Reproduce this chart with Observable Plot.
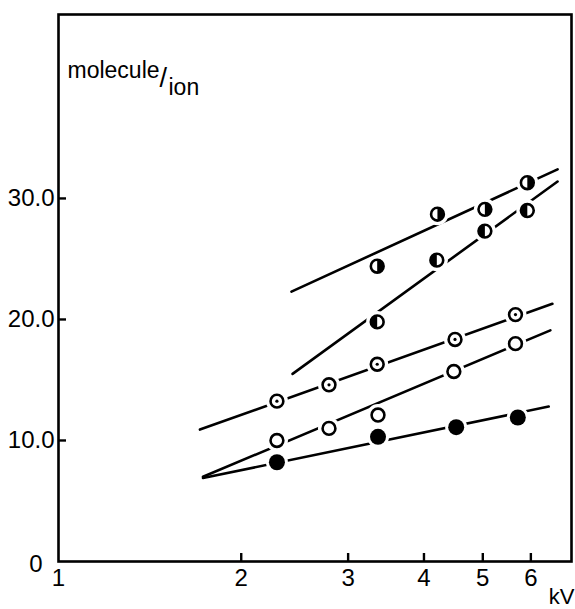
<!DOCTYPE html>
<html><head><meta charset="utf-8">
<script src="https://cdn.jsdelivr.net/npm/d3@7"></script>
<script src="https://cdn.jsdelivr.net/npm/@observablehq/plot@0.6"></script>
<style>html,body{margin:0;padding:0;background:#fff;} svg{display:block}</style>
</head><body><div id="chart"></div>
<script>
// axis ticks
const xTicks = [2, 3, 4, 5, 6];
const xLabelTicks = [1, 2, 3, 4, 5, 6];
const xTickLabels = ["1", "2", "3", "4", "5", "6"];
const yTicks = [10, 20, 30];
const yTickLabels = ["10.0", "20.0", "30.0"];
const yZeroTick = [0];
const yZeroLabel = ["0"];

// filled circles
const kvFilled = [2.29, 3.36, 4.52, 5.71];
const molFilled = [8.2, 10.3, 11.1, 11.9];
const fitFilledKv = [1.73, 6.42];
const fitFilledMol = [6.9, 12.8];
// open circles
const kvOpen = [2.29, 2.79, 3.36, 4.48, 5.66];
const molOpen = [10.0, 11.0, 12.1, 15.7, 18.0];
const fitOpenKv = [1.73, 6.46];
const fitOpenMol = [7.0, 19.1];
// dotted circles
const kvDotted = [2.29, 2.79, 3.35, 4.50, 5.66];
const molDotted = [13.25, 14.6, 16.3, 18.35, 20.4];
const fitDottedKv = [1.71, 6.51];
const fitDottedMol = [10.9, 21.3];
// half-filled, left half black
const kvHalfL = [3.35, 4.20, 5.04, 5.92];
const molHalfL = [19.8, 24.9, 27.3, 29.0];
const fitHalfLKv = [2.43, 6.64];
const fitHalfLMol = [15.5, 31.4];
// half-filled, right half black
const kvHalfR = [3.35, 4.21, 5.04, 5.92];
const molHalfR = [24.4, 28.7, 29.1, 31.3];
const fitHalfRKv = [2.42, 6.64];
const fitHalfRMol = [22.3, 32.4];

const pts = (kv, mol) => kv.map((x, i) => ({x, y: mol[i]}));
const filled = pts(kvFilled, molFilled);
const open = pts(kvOpen, molOpen);
const dotted = pts(kvDotted, molDotted);
const halfL = pts(kvHalfL, molHalfL);
const halfR = pts(kvHalfR, molHalfR);
const allPts = [...filled, ...open, ...dotted, ...halfL, ...halfR];
const fits = [
  pts(fitFilledKv, fitFilledMol), pts(fitOpenKv, fitOpenMol), pts(fitDottedKv, fitDottedMol),
  pts(fitHalfLKv, fitHalfLMol), pts(fitHalfRKv, fitHalfRMol)
];

const halfSymbol = (left) => ({
  draw(ctx, size) {
    const r = Math.sqrt(size / Math.PI);
    ctx.moveTo(0, -r);
    ctx.arc(0, 0, r, -Math.PI / 2, Math.PI / 2, left);
    ctx.closePath();
  }
});

const font = "Liberation Sans, Arial, sans-serif";
const sw = 2.6;

const chart = Plot.plot({
  width: 575, height: 609,
  marginLeft: 58, marginRight: 4, marginTop: 14, marginBottom: 48,
  style: {fontFamily: font, fontSize: "24px", background: "#fff", color: "#000"},
  x: {type: "log", domain: [1, 7], label: null},
  y: {domain: [0, 45.2], label: null},
  marks: [
    ...fits.map(f => Plot.line(f, {x: "x", y: "y", stroke: "#000", strokeWidth: sw})),
    Plot.dot(allPts, {x: "x", y: "y", r: 11, fill: "#fff", stroke: null}),
    Plot.dot(filled, {x: "x", y: "y", r: 8, fill: "#000", stroke: null}),
    Plot.dot(open, {x: "x", y: "y", r: 6.4, fill: "#fff", stroke: "#000", strokeWidth: sw}),
    Plot.dot(dotted, {x: "x", y: "y", r: 6.4, fill: "#fff", stroke: "#000", strokeWidth: sw}),
    Plot.dot(dotted, {x: "x", y: "y", r: 1.6, fill: "#000", stroke: null}),
    Plot.dot(halfL, {x: "x", y: "y", r: 6.4, fill: "#fff", stroke: null}),
    Plot.dot(halfL, {x: "x", y: "y", r: 6.6, symbol: halfSymbol(true), fill: "#000", stroke: null}),
    Plot.dot(halfL, {x: "x", y: "y", r: 6.4, fill: "none", stroke: "#000", strokeWidth: sw}),
    Plot.dot(halfR, {x: "x", y: "y", r: 6.4, fill: "#fff", stroke: null}),
    Plot.dot(halfR, {x: "x", y: "y", r: 6.6, symbol: halfSymbol(false), fill: "#000", stroke: null}),
    Plot.dot(halfR, {x: "x", y: "y", r: 6.4, fill: "none", stroke: "#000", strokeWidth: sw}),
    Plot.frame({stroke: "#000", strokeWidth: 2.6}),
    Plot.axisX(xTicks, {anchor: "bottom", tickSize: -8, strokeWidth: 2.4, tickFormat: () => "", label: null}),
    Plot.axisX(xLabelTicks, {anchor: "bottom", tickSize: 0, tickPadding: 7, fontSize: 24,
      tickFormat: d => xTickLabels[xLabelTicks.indexOf(d)], label: null}),
    Plot.axisY(yTicks, {anchor: "left", tickSize: -8, strokeWidth: 2.4, tickFormat: () => "", label: null}),
    Plot.axisY(yTicks, {anchor: "left", tickSize: 0, tickPadding: 4, fontSize: 24, letterSpacing: "-1.5px",
      tickFormat: d => yTickLabels[yTicks.indexOf(d)], label: null}),
    Plot.axisY(yZeroTick, {anchor: "left", tickSize: 0, tickPadding: 16, dy: 3, fontSize: 24,
      tickFormat: d => yZeroLabel[yZeroTick.indexOf(d)], label: null}),
    Plot.text(["molecule"], {frameAnchor: "top-left", text: d => d, dx: 9, dy: 63, lineAnchor: "bottom", textAnchor: "start", fontSize: 23}),
    Plot.text(["/"], {frameAnchor: "top-left", text: d => d, dx: 101, dy: 72, lineAnchor: "bottom", textAnchor: "start", fontSize: 27}),
    Plot.text(["ion"], {frameAnchor: "top-left", text: d => d, dx: 110, dy: 80, lineAnchor: "bottom", textAnchor: "start", fontSize: 23}),
    Plot.text(["kV"], {frameAnchor: "bottom-right", text: d => d, dx: 3, dy: 42, lineAnchor: "bottom", textAnchor: "end", fontSize: 22})
  ]
});
document.getElementById("chart").appendChild(chart);
</script>
</body></html>
